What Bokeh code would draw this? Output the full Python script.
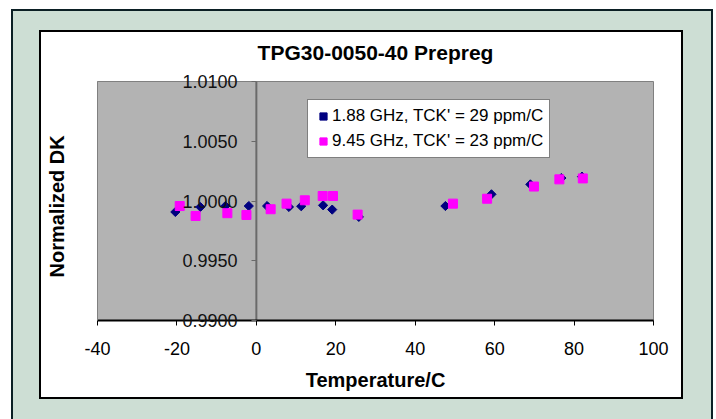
import math
from bokeh.plotting import figure
from bokeh.models import (Range1d, FixedTicker, PrintfTickFormatter, Span, Title,
                          Legend, LegendItem)
from bokeh.embed import file_html
from bokeh.resources import INLINE

title_text = "TPG30-0050-40 Prepreg"
x_label = "Temperature/C"
y_label = "Normalized DK"
x_ticks = [-40, -20, 0, 20, 40, 60, 80, 100]
x_tick_labels = ["-40", "-20", "0", "20", "40", "60", "80", "100"]
y_ticks = [0.9900, 0.9950, 1.0000, 1.0050, 1.0100]

s1_name = "1.88 GHz, TCK' = 29 ppm/C"
s1_temp = [-20.4, -14.1, -7.8, -1.9, 2.7, 8.2, 11.3, 16.8, 19.1, 25.8,
           47.6, 59.2, 69.0, 76.8, 82.0]
s1_dk = [0.99908, 0.99950, 0.99958, 0.99958, 0.99958, 0.99950, 0.99956, 0.99964,
         0.99928, 0.99867, 0.99958, 1.00056, 1.00139, 1.00192, 1.00204]

s2_name = "9.45 GHz, TCK' = 23 ppm/C"
s2_temp = [-19.3, -15.3, -7.3, -2.5, 3.6, 7.6, 12.2, 16.7, 19.3, 25.5,
           49.5, 58.1, 69.9, 76.3, 82.2]
s2_dk = [0.99958, 0.99875, 0.99898, 0.99883, 0.99931, 0.99978, 1.00006, 1.00042,
         1.00042, 0.99886, 0.99978, 1.00019, 1.00121, 1.00181, 1.00189]

FONT = "Liberation Sans"

p = figure(width=716, height=419, output_backend="svg", toolbar_location=None,
           x_range=Range1d(-40, 100), y_range=Range1d(0.99, 1.01),
           min_border_left=97, min_border_right=63, min_border_top=81,
           min_border_bottom=99, background_fill_color="#B3B3B3",
           border_fill_color="white", border_fill_alpha=0.0,
           outline_line_color="#808080")

# chart-area frame: dark outer line, light green panel, black-bordered white area
p.styles = {"background": ", ".join([
    "linear-gradient(#ffffff,#ffffff) 41px 32px / 640px 365px no-repeat",
    "linear-gradient(#000000,#000000) 39px 30px / 644px 369px no-repeat",
    "linear-gradient(#CDDED4,#CDDED4) 13px 11px / 698px 420px no-repeat",
    "linear-gradient(#0B1F24,#0B1F24) 11px 9px / 702px 420px no-repeat",
    "#ffffff",
])}

p.xgrid.visible = False
p.ygrid.visible = False

p.title.text = title_text
p.title.align = "center"
p.title.text_font = FONT
p.title.text_font_size = "21px"
p.title.text_font_style = "bold"
p.title.text_color = "black"
p.title.standoff = 36

xa = p.xaxis[0]
xa.ticker = FixedTicker(ticks=x_ticks)
xa.major_label_overrides = dict(zip(x_ticks, x_tick_labels))
xa.axis_label = x_label
xa.axis_label_text_font = FONT
xa.axis_label_text_font_size = "20px"
xa.axis_label_text_font_style = "bold"
xa.axis_label_text_color = "black"
xa.axis_label_standoff = 11
xa.major_label_text_font = FONT
xa.major_label_text_font_size = "18px"
xa.major_label_text_color = "black"
xa.major_label_standoff = 16
xa.axis_line_color = "black"
xa.axis_line_width = 2
xa.major_tick_line_color = "black"
xa.major_tick_out = 5
xa.major_tick_in = 0
xa.minor_tick_out = 0
xa.minor_tick_in = 0

# value axis: labels and ticks drawn next to the x = 0 line, as in the original
ya = p.yaxis[0]
ya.ticker = FixedTicker(ticks=y_ticks)
ya.formatter = PrintfTickFormatter(format="%.4f")
ya.major_label_text_font = FONT
ya.major_label_text_font_size = "18px"
ya.major_label_text_color = "#111111"
ya.axis_line_color = "#808080"
ya.axis_line_width = 1
ya.major_tick_line_color = "#6A6A6A"
ya.major_tick_out = -154
ya.major_tick_in = 159
ya.minor_tick_out = -154
ya.minor_tick_in = 0
ya.major_label_standoff = -140

p.add_layout(Span(location=0, dimension="height", line_color="#6A6A6A",
                  line_width=2, level="underlay"))

p.add_layout(Title(text=y_label, align="left", offset=43, standoff=60,
                   text_font=FONT, text_font_size="20px", text_font_style="bold",
                   text_color="black"), "left")

r1 = p.scatter(s1_temp, s1_dk, marker="square", angle=math.pi / 4, size=6.5,
               fill_color="#000080", line_color="#000080")
r2 = p.scatter(s2_temp, s2_dk, marker="square", size=9,
               fill_color="#FF00FF", line_color="#FF00FF")

legend = Legend(items=[LegendItem(label=s1_name, renderers=[r1]),
                       LegendItem(label=s2_name, renderers=[r2])],
                location=(210, 162), padding=6, spacing=5,
                glyph_width=18, glyph_height=20, label_height=20,
                label_standoff=0, margin=0,
                label_text_font=FONT, label_text_font_size="17px",
                label_text_color="black",
                border_line_color="black", border_line_width=1,
                background_fill_color="white", background_fill_alpha=1.0)
p.add_layout(legend)

open("out.html", "w").write(file_html(p, INLINE))
